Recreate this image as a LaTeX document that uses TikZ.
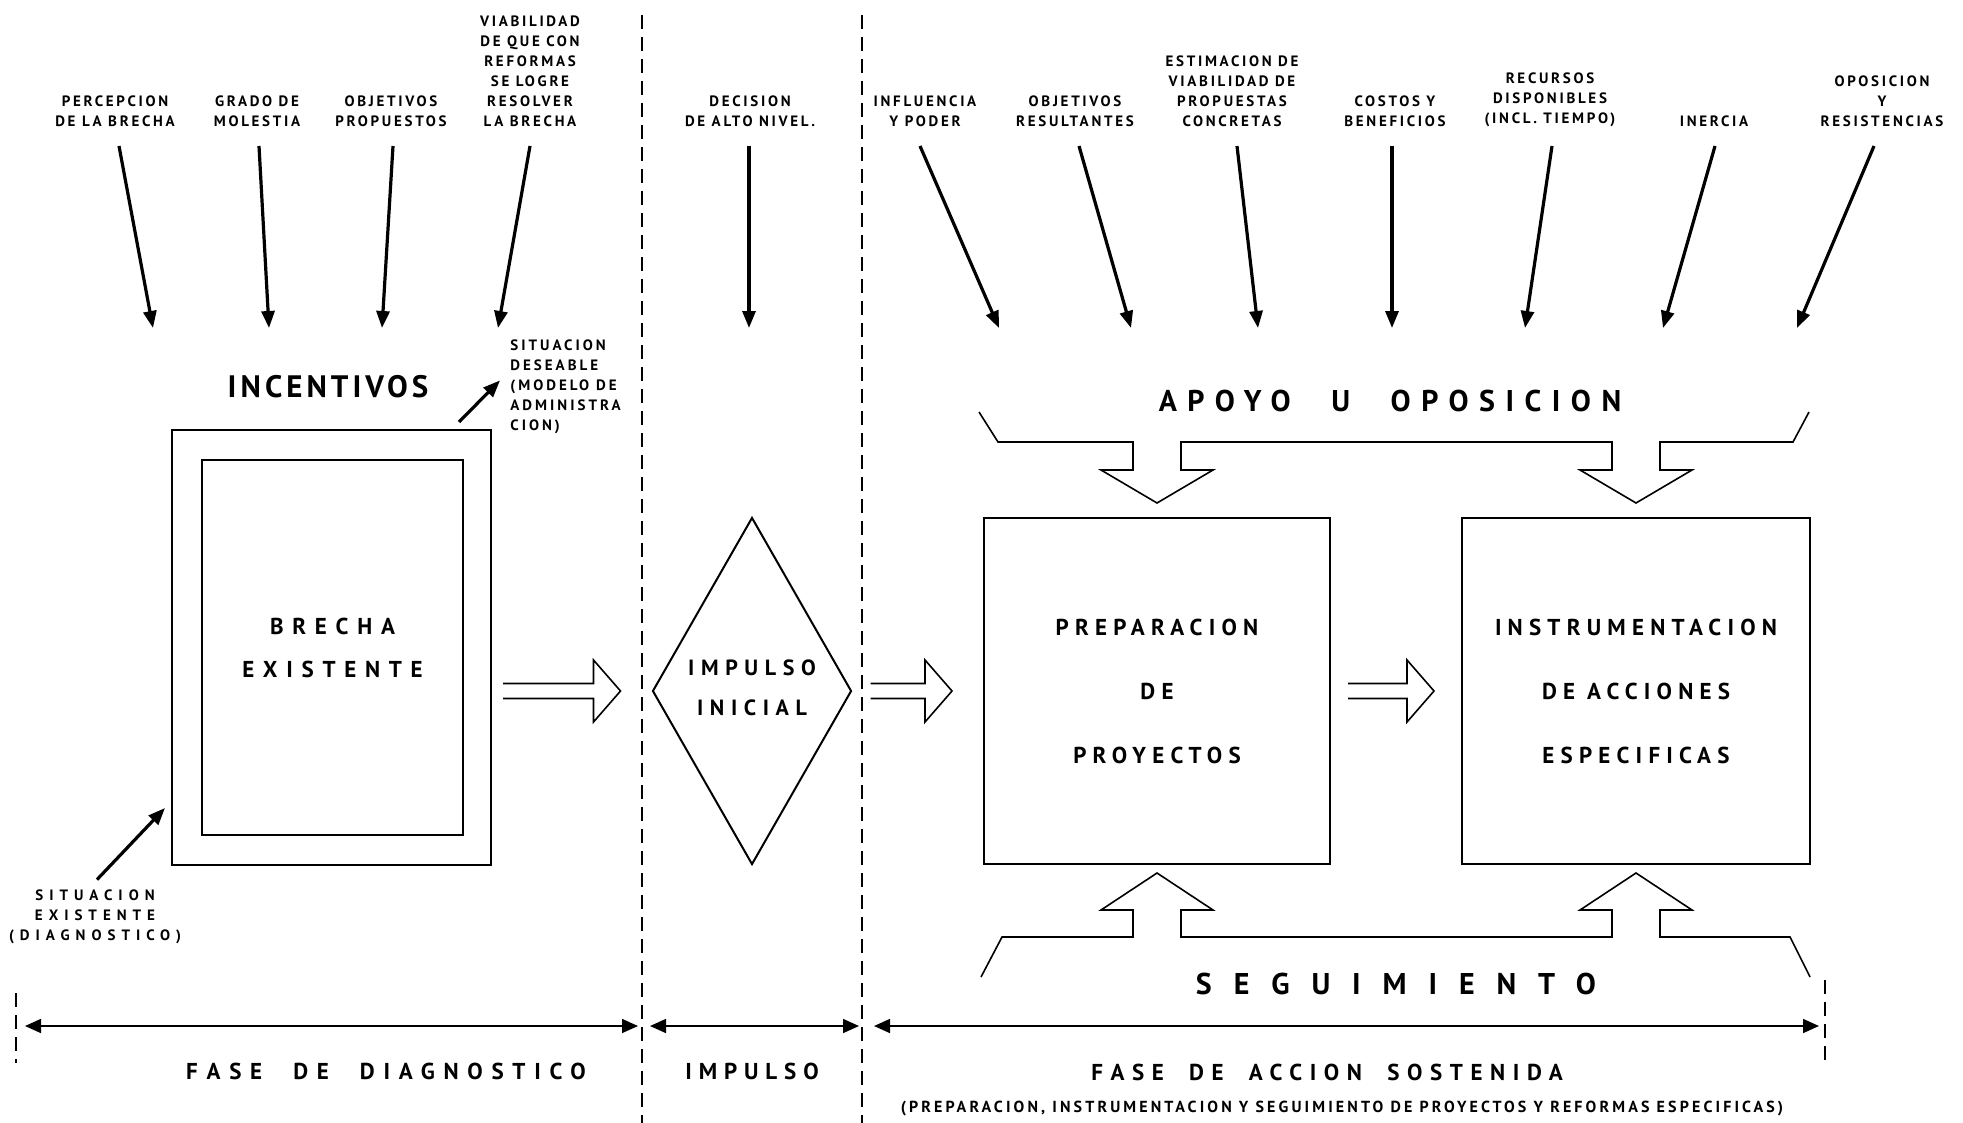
\documentclass[tikz,border=0pt]{standalone}
\usepackage{fontspec}
\setmainfont{PT Sans}
\usetikzlibrary{arrows.meta,shapes.geometric,calc}
\newcommand{\letsp}[1]{\addfontfeature{LetterSpace=#1}}

\begin{document}
\begin{tikzpicture}[x=0.5pt,y=0.5pt,yscale=-1,
  lbl/.style={font=\bfseries\fontsize{7.5}{10}\selectfont\letsp{18},align=center,inner sep=0pt},
  feed/.style={line width=1.6pt,-{Triangle[length=8.5pt,width=6.5pt]}},
  boxd/.style={draw,line width=1pt,inner sep=0pt},
  boxtxt/.style={font=\bfseries\fontsize{11.5}{32}\selectfont\letsp{27},align=center},
  hollow/.style={line width=0.8pt,line join=miter},
  sep/.style={line width=0.8pt,dash pattern=on 7pt off 4pt},
  dim/.style={line width=0.8pt,>={Triangle[length=8pt,width=7pt]},<->},
  title/.style={font=\bfseries\fontsize{15}{18}\selectfont,inner sep=0pt}]
\useasboundingbox (0,0) rectangle (1963,1123);

% phase separators
\draw[sep] (642,15) -- (642,1123);
\draw[sep] (862,15) -- (862,1123);

% top factors
\node[lbl,anchor=south] (percep) at (115,127) {PERCEPCION\\DE LA BRECHA};
\node[lbl,anchor=south] (grado) at (257,127) {GRADO DE\\MOLESTIA};
\node[lbl,anchor=south] (objprop) at (391,127) {OBJETIVOS\\PROPUESTOS};
\node[lbl,anchor=south] (viab) at (530,127) {VIABILIDAD\\DE QUE CON\\REFORMAS\\SE LOGRE\\RESOLVER\\LA BRECHA};
\node[lbl,anchor=south] (decision) at (750,127) {DECISION\\DE ALTO NIVEL.};
\node[lbl,anchor=south] (influ) at (925,127) {INFLUENCIA\\Y PODER};
\node[lbl,anchor=south] (objres) at (1075,127) {OBJETIVOS\\RESULTANTES};
\node[lbl,anchor=south] (estim) at (1232,127) {ESTIMACION DE\\VIABILIDAD DE\\PROPUESTAS\\CONCRETAS};
\node[lbl,anchor=south] (costos) at (1395,127) {COSTOS Y\\BENEFICIOS};
\node[lbl,anchor=south] (recur) at (1550,127) {RECURSOS\\DISPONIBLES\\(INCL. TIEMPO)};
\node[lbl,anchor=south] (inercia) at (1714,127) {INERCIA};
\node[lbl,anchor=south] (oposic) at (1882,127) {OPOSICION\\Y\\RESISTENCIAS};

\foreach \src/\dx/\ex in {percep/4/38,grado/2/12,objprop/2/-9,viab/0/-32,decision/-1/-1,
    influ/-5/74,objres/4/56,estim/5/26,costos/-3/-3,recur/2/-25,inercia/1/-51,oposic/-8/-85}
  \draw[feed] ($(\src.south)+(\dx,19)$) coordinate (\src-in) -- ($(\src.south)+(\ex,201)$) coordinate (\src-out);

% diagnostico
\node[title,font=\bfseries\fontsize{15.5}{18}\selectfont\letsp{13}] (incent) at (328,387) {INCENTIVOS};
\node[boxd,minimum width=159.5pt,minimum height=217.5pt] (outer) at (331.5,647.5) {};
\node[boxd,minimum width=130.5pt,minimum height=187.5pt,align=center,
  font=\bfseries\fontsize{11.5}{21.5}\selectfont\letsp{38}] (brecha) at (332.5,647.5) {BRECHA\\EXISTENTE};
\node[lbl,align=left,anchor=north west,font=\bfseries\fontsize{7.5}{10}\selectfont\letsp{20}] (deseable) at (510,339) {SITUACION\\DESEABLE\\(MODELO DE\\ADMINISTRA\\CION)};
\draw[feed] ($(outer.north east)+(-33,-7)$) -- ($(deseable.west)+(-10,-6)$);
\node[lbl,font=\bfseries\fontsize{7.5}{10}\selectfont\letsp{40}] (existente) at (95,917) {SITUACION\\EXISTENTE\\(DIAGNOSTICO)};
\draw[feed] ($(existente.north)+(2,-10)$) -- ($(outer.south west)+(-6,-58)$);

% impulso
\node[draw,diamond,line width=1pt,minimum width=99.5pt,minimum height=173.5pt,inner sep=0pt] (impulso) at (752,691) {};
\node[align=center,font=\bfseries\fontsize{11}{20}\selectfont\letsp{30}] (impulsotxt) at (752,688) {IMPULSO\\INICIAL};

% accion sostenida
\node[boxd,boxtxt,minimum width=173pt,minimum height=173pt] (prep) at (1157,691) {PREPARACION\\DE\\PROYECTOS};
\node[boxd,boxtxt,minimum width=174pt,minimum height=173pt] (instr) at (1636,691) {INSTRUMENTACION\\DE ACCIONES\\ESPECIFICAS};

\coordinate (h1s) at ($(outer.east |- impulso.west)+(11,0)$);
\coordinate (h1e) at ($(impulso.west)+(-31,0)$);
\coordinate (h2s) at ($(impulso.east)+(18,0)$);
\coordinate (h2e) at ($(prep.west)+(-31,0)$);
\coordinate (h3s) at ($(prep.east)+(17,0)$);
\coordinate (h3e) at ($(instr.west)+(-27,0)$);
\foreach \s/\e in {h1s/h1e,h2s/h2e,h3s/h3e}
  \draw[hollow] ($(\s)+(0,-7.5)$) -- ($(\e)+(-27,-7.5)$) -- ($(\e)+(-27,-31)$) -- (\e)
    -- ($(\e)+(-27,31)$) -- ($(\e)+(-27,7.5)$) -- ($(\s)+(0,7.5)$);

\node[title,font=\bfseries\fontsize{15}{18}\selectfont\letsp{35}] (apoyo) at (1390,401) {APOYO\hspace{1.35em}U\hspace{1.35em}OPOSICION};
\draw[hollow] (979,412) -- (998,442) -- (1133,442) -- (1133,470) -- (1101,470) -- (1157,503)
  -- (1213,470) -- (1181,470) -- (1181,442) -- (1612,442) -- (1612,470) -- (1580,470)
  -- (1636,503) -- (1692,470) -- (1660,470) -- (1660,442) -- (1793,442) -- (1809,412);

\node[title,font=\bfseries\fontsize{15}{18}\selectfont\letsp{73}] (segui) at (1396,984) {SEGUIMIENTO};
\draw[hollow] (981,977) -- (1002,937) -- (1133,937) -- (1133,910) -- (1101,910) -- (1157,873)
  -- (1213,910) -- (1181,910) -- (1181,937) -- (1612,937) -- (1612,910) -- (1580,910)
  -- (1636,873) -- (1692,910) -- (1660,910) -- (1660,937) -- (1790,937) -- (1810,977);

% phases
\draw[sep] (16,993) -- (16,1063);
\draw[sep] (1825,980) -- (1825,1067);
\draw[dim] (25,1026) -- (638,1026);
\draw[dim] (650,1026) -- (859,1026);
\draw[dim] (874,1026) -- (1819,1026);

\node[font=\bfseries\fontsize{11.5}{14}\selectfont\letsp{38}] (fdiag) at (386,1071) {FASE\hspace{1.35em}DE\hspace{1.35em}DIAGNOSTICO};
\node[font=\bfseries\fontsize{11.5}{14}\selectfont\letsp{30}] (fimp) at (752,1071) {IMPULSO};
\node[font=\bfseries\fontsize{11.5}{14}\selectfont\letsp{33}] (facc) at (1327,1072) {FASE\hspace{1.1em}DE\hspace{1.1em}ACCION\hspace{1.1em}SOSTENIDA};
\node[font=\bfseries\fontsize{8}{10}\selectfont\letsp{19.5}] (fnote) at (1342,1109) {(PREPARACION, INSTRUMENTACION Y SEGUIMIENTO DE PROYECTOS Y REFORMAS ESPECIFICAS)};
\end{tikzpicture}
\end{document}
